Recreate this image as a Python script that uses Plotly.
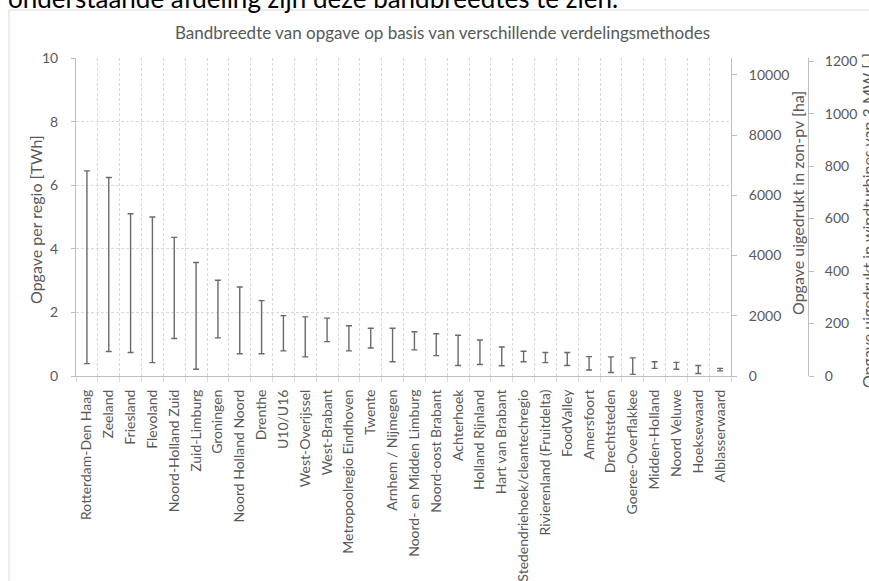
import plotly.graph_objects as go

regions = ["Rotterdam-Den Haag", "Zeeland", "Friesland", "Flevoland", "Noord-Holland Zuid",
           "Zuid-Limburg", "Groningen", "Noord Holland Noord", "Drenthe", "U10/U16",
           "West-Overijssel", "West-Brabant", "Metropoolregio Eindhoven", "Twente",
           "Arnhem / Nijmegen", "Noord- en Midden Limburg", "Noord-oost Brabant", "Achterhoek",
           "Holland Rijnland", "Hart van Brabant", "Stedendriehoek/cleantechregio",
           "Rivierenland (Fruitdelta)", "FoodValley", "Amersfoort", "Drechtsteden",
           "Goeree-Overflakkee", "Midden-Holland", "Noord Veluwe", "Hoeksewaard", "Alblasserwaard"]
high_twh = [6.45, 6.24, 5.10, 5.00, 4.36, 3.57, 3.01, 2.80, 2.37, 1.90,
            1.86, 1.82, 1.58, 1.50, 1.50, 1.39, 1.33, 1.28, 1.13, 0.91,
            0.78, 0.74, 0.74, 0.61, 0.60, 0.57, 0.45, 0.43, 0.33, 0.24]
low_twh = [0.39, 0.77, 0.74, 0.42, 1.18, 0.21, 1.20, 0.70, 0.70, 0.79,
           0.60, 1.08, 0.79, 0.88, 0.45, 0.82, 0.64, 0.33, 0.36, 0.32,
           0.45, 0.42, 0.33, 0.19, 0.11, 0.05, 0.24, 0.21, 0.08, 0.16]

left_ticks = [0, 2, 4, 6, 8, 10]
ha_ticks = [0, 2000, 4000, 6000, 8000, 10000]
wt_ticks = [0, 200, 400, 600, 800, 1000, 1200]

mid = [(h + l) / 2 for h, l in zip(high_twh, low_twh)]
half = [(h - l) / 2 for h, l in zip(high_twh, low_twh)]

FONT = "Lato"
GREY_TXT = "#595959"
GRID = "#d9d9d9"
AXIS = "#bfbfbf"

# pixel layout helpers (paper spans x 76..808, y 58..376)
PL, PR, PT, PB = 76, 808, 58, 376

def px_x(px):
    return (px - PL) / float(PR - PL)

def px_y(py):
    return (PB - py) / float(PB - PT)

fig = go.Figure()
fig.add_trace(go.Scatter(
    x=regions, y=mid, mode="markers",
    marker=dict(size=1, color="rgba(0,0,0,0)"),
    error_y=dict(type="data", array=half, symmetric=True, color="#6a6a6a",
                 thickness=1.4, width=3),
    showlegend=False, hoverinfo="skip"))
fig.add_trace(go.Scatter(x=[regions[0]], y=[0], yaxis="y2", mode="markers",
                         marker=dict(color="rgba(0,0,0,0)"), showlegend=False, hoverinfo="skip"))
fig.add_trace(go.Scatter(x=[regions[0]], y=[0], yaxis="y3", mode="markers",
                         marker=dict(color="rgba(0,0,0,0)"), showlegend=False, hoverinfo="skip"))

tickfont = dict(family=FONT, size=14, color=GREY_TXT)

fig.update_layout(
    width=869, height=581,
    margin=dict(l=PL, r=869 - PR, t=PT, b=581 - PB, autoexpand=False),
    paper_bgcolor="white", plot_bgcolor="white",
    font=dict(family=FONT, color=GREY_TXT),
    xaxis=dict(type="category", domain=[0, px_x(731)], tickson="boundaries", showgrid=True,
               gridcolor=GRID, griddash="3px,2px", gridwidth=1, tickangle=-90,
               tickfont=tickfont, showline=True, linecolor=AXIS, linewidth=1,
               ticks="outside", ticklen=5, tickcolor=GRID, automargin=False,
               range=[-0.5, len(regions) - 0.5], ticklabelstandoff=7),
    yaxis=dict(range=[0, 10], tickvals=left_ticks, showgrid=True, gridcolor=GRID,
               griddash="3px,2px", tickfont=tickfont, showline=True, linecolor=AXIS,
               ticks="outside", ticklen=4, tickcolor=AXIS, ticklabelstandoff=10,
               zeroline=False, automargin=False),
    yaxis2=dict(range=[0, 10560], tickvals=ha_ticks, ticktext=[str(v) for v in ha_ticks],
                overlaying="y", side="right",
                anchor="x", showgrid=False, tickfont=tickfont, showline=True,
                linecolor=AXIS, ticks="outside", ticklen=5, tickcolor=AXIS,
                ticklabelstandoff=9, zeroline=False, automargin=False),
    yaxis3=dict(range=[0, 1212], tickvals=wt_ticks, ticktext=[str(v) for v in wt_ticks],
                overlaying="y", side="right",
                anchor="free", position=1.0, showgrid=False, tickfont=tickfont,
                showline=True, linecolor=AXIS, ticks="outside", ticklen=5,
                tickcolor=AXIS, ticklabelstandoff=8, zeroline=False, automargin=False),
)

# outer frame of the chart
fig.add_shape(type="rect", xref="paper", yref="paper",
              x0=px_x(9), x1=px_x(900), y0=px_y(620), y1=px_y(10),
              line=dict(color=GRID, width=1), fillcolor="rgba(0,0,0,0)", layer="below")

# header text of the document (cut off at the top, as in the source screenshot)
fig.add_annotation(text="onderstaande afdeling zijn deze bandbreedtes te zien.",
                   xref="paper", yref="paper", x=px_x(6), y=px_y(-2), xanchor="left",
                   yanchor="middle", showarrow=False,
                   font=dict(family=FONT, size=26, color="#000000"))
# chart title
fig.add_annotation(text="Bandbreedte van opgave op basis van verschillende verdelingsmethodes",
                   xref="paper", yref="paper", x=px_x(442), y=px_y(32), xanchor="center",
                   yanchor="middle", showarrow=False,
                   font=dict(family=FONT, size=17, color=GREY_TXT))
# axis titles
fig.add_annotation(text="Opgave per regio [TWh]", xref="paper", yref="paper",
                   x=px_x(35), y=px_y(220), textangle=-90, showarrow=False,
                   xanchor="center", yanchor="middle",
                   font=dict(family=FONT, size=16, color=GREY_TXT))
fig.add_annotation(text="Opgave uigedrukt in zon-pv [ha]", xref="paper", yref="paper",
                   x=px_x(797), y=px_y(203), textangle=-90, showarrow=False,
                   xanchor="center", yanchor="middle",
                   font=dict(family=FONT, size=16, color=GREY_TXT))
fig.add_annotation(text="Opgave uigedrukt in windturbines van 3 MW [-]", xref="paper",
                   yref="paper", x=px_x(867), y=px_y(221), textangle=-90, showarrow=False,
                   xanchor="center", yanchor="middle",
                   font=dict(family=FONT, size=16, color=GREY_TXT))

fig.write_html("out.html")
